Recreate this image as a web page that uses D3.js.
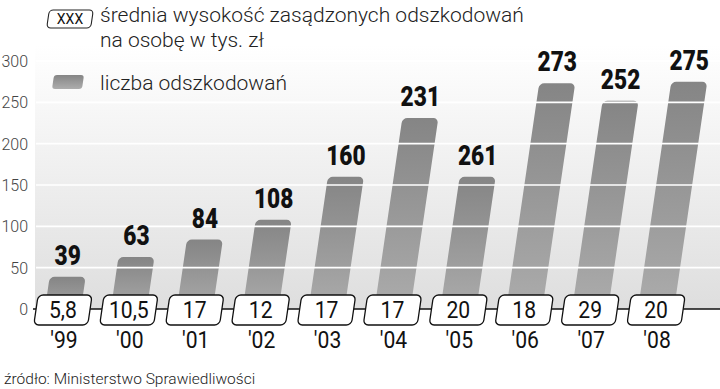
<!DOCTYPE html>
<html>
<head>
<meta charset="utf-8">
<script src="https://cdn.jsdelivr.net/npm/d3@7"></script>
<style>
  body { margin: 0; background: #fff; }
  svg { display: block; }
</style>
</head>
<body>
<div class="container"></div>
<script>
// data
const years = ["'99", "'00", "'01", "'02", "'03", "'04", "'05", "'06", "'07", "'08"];
// liczba odszkodowań (printed above bars)
const counts = [39, 63, 84, 108, 160, 231, 261, 273, 252, 275];
// bar heights as drawn in the source (the '05 bar is drawn at ~160)
const barHeights = [39, 63, 84, 108, 160, 231, 160, 273, 252, 275];
// średnia wysokość odszkodowania, tys. zł (boxes)
const averages = ['5,8', '10,5', '17', '12', '17', '17', '20', '18', '29', '20'];
const yTicks = [0, 50, 100, 150, 200, 250, 300];

const W = 720, H = 389;
const base = 309;           // zero line
const slant = 0.146;        // bars lean to the right
const skewDeg = -Math.atan(slant) * 180 / Math.PI;

const svg = d3.select('.container')
  .append('svg')
  .attr('width', W)
  .attr('height', H);

const defs = svg.append('defs');
const bg = defs.append('linearGradient')
  .attr('id', 'bg').attr('x1', 0).attr('y1', 0).attr('x2', 0).attr('y2', 1);
bg.append('stop').attr('offset', 0).attr('stop-color', '#ffffff');
bg.append('stop').attr('offset', 1).attr('stop-color', '#dedede');

const barGrad = defs.append('linearGradient')
  .attr('id', 'bar').attr('x1', 0).attr('y1', 0).attr('x2', 0).attr('y2', 1);
barGrad.append('stop').attr('offset', 0).attr('stop-color', '#858585');
barGrad.append('stop').attr('offset', 1).attr('stop-color', '#adadad');

const x = d3.scaleBand()
  .domain(years)
  .range([30, 689])
  .paddingInner(0.17)
  .paddingOuter(0.085);

const y = d3.scaleLinear()
  .domain([0, 300])
  .range([base, 61]);

const cx = d => x(d) + x.bandwidth() / 2;

// plot background
svg.append('rect')
  .attr('x', 35).attr('y', 45)
  .attr('width', W - 35).attr('height', base - 45)
  .attr('fill', 'url(#bg)');

// y axis labels
svg.append('g')
  .selectAll('text')
  .data(yTicks)
  .join('text')
  .attr('x', 28)
  .attr('y', d => y(d) + 6)
  .attr('text-anchor', 'end')
  .attr('font-family', 'Roboto, sans-serif')
  .attr('font-weight', 300)
  .attr('font-size', 16)
  .attr('fill', '#444')
  .text(d => d);

// bars
const barW = 36;
svg.append('g')
  .selectAll('g')
  .data(years)
  .join('g')
  .attr('transform', d => `translate(${cx(d)},${base}) skewX(${skewDeg})`)
  .append('rect')
  .attr('x', -barW / 2)
  .attr('y', (d, i) => y(barHeights[i]) - base)
  .attr('width', barW)
  .attr('height', (d, i) => base - y(barHeights[i]) + 8)
  .attr('rx', 5)
  .attr('fill', 'url(#bar)');

// white grid lines over bars
svg.append('g')
  .selectAll('line')
  .data(yTicks.filter(d => d > 0))
  .join('line')
  .attr('x1', 36).attr('x2', W)
  .attr('y1', d => y(d)).attr('y2', d => y(d))
  .attr('stroke', '#fff')
  .attr('stroke-width', 1.6);

// value labels above bars (narrowed bold)
svg.append('g')
  .selectAll('text')
  .data(years)
  .join('text')
  .attr('transform', (d, i) =>
    `translate(${cx(d) + (base - y(barHeights[i])) * slant},${y(barHeights[i]) - 12}) scale(0.84,1)`)
  .attr('text-anchor', 'middle')
  .attr('font-family', 'Roboto, sans-serif')
  .attr('font-weight', 900)
  .attr('font-size', 27)
  .attr('fill', '#111')
  .text((d, i) => counts[i]);

// connector line
svg.append('line')
  .attr('x1', 33).attr('x2', W)
  .attr('y1', base).attr('y2', base)
  .attr('stroke', '#111')
  .attr('stroke-width', 1.6);

// average boxes
const boxW = 54, boxH = 30;
const boxes = svg.append('g')
  .selectAll('g')
  .data(years)
  .join('g')
  .attr('transform', d => `translate(${cx(d)},${base + 1})`);

boxes.append('rect')
  .attr('transform', `skewX(${skewDeg})`)
  .attr('x', -boxW / 2).attr('y', -boxH / 2)
  .attr('width', boxW).attr('height', boxH)
  .attr('rx', 5)
  .attr('fill', '#fff')
  .attr('stroke', '#111')
  .attr('stroke-width', 1.3);

boxes.append('text')
  .attr('y', 8)
  .attr('transform', 'scale(0.92,1)')
  .attr('text-anchor', 'middle')
  .attr('font-family', 'Roboto, sans-serif')
  .attr('font-size', 23)
  .attr('fill', '#111')
  .text((d, i) => averages[i]);

// year labels
svg.append('g')
  .selectAll('text')
  .data(years)
  .join('text')
  .attr('transform', d => `translate(${cx(d) + 1},348) scale(0.92,1)`)
  .attr('text-anchor', 'middle')
  .attr('font-family', 'Roboto, sans-serif')
  .attr('font-size', 23)
  .attr('fill', '#111')
  .text(d => d);

// legend
const leg = svg.append('g');
leg.append('rect')
  .attr('transform', `translate(70,19) skewX(${skewDeg})`)
  .attr('x', -22).attr('y', -9)
  .attr('width', 44).attr('height', 18)
  .attr('rx', 4)
  .attr('fill', '#fff')
  .attr('stroke', '#222')
  .attr('stroke-width', 1.1);
leg.append('text')
  .attr('x', 70).attr('y', 24)
  .attr('text-anchor', 'middle')
  .attr('font-family', 'Roboto, sans-serif')
  .attr('font-size', 14)
  .attr('fill', '#111')
  .text('XXX');
leg.append('rect')
  .attr('transform', `translate(68,82) skewX(${skewDeg})`)
  .attr('x', -15).attr('y', -7)
  .attr('width', 30).attr('height', 14)
  .attr('rx', 3)
  .attr('fill', 'url(#bar)');

const legText = [
  ['średnia wysokość zasądzonych odszkodowań', 22],
  ['na osobę w tys. zł', 47],
  ['liczba odszkodowań', 90]
];
leg.selectAll('text.lt')
  .data(legText)
  .join('text')
  .attr('class', 'lt')
  .attr('x', 100)
  .attr('y', d => d[1])
  .attr('font-family', 'Roboto, sans-serif')
  .attr('font-weight', 300)
  .attr('font-size', 21)
  .attr('fill', '#222')
  .text(d => d[0]);

// source
svg.append('text')
  .attr('x', 4).attr('y', 384)
  .attr('font-family', 'Roboto, sans-serif')
  .attr('font-weight', 300)
  .attr('font-size', 15.5)
  .attr('fill', '#222')
  .text('źródło: Ministerstwo Sprawiedliwości');
</script>
</body>
</html>
